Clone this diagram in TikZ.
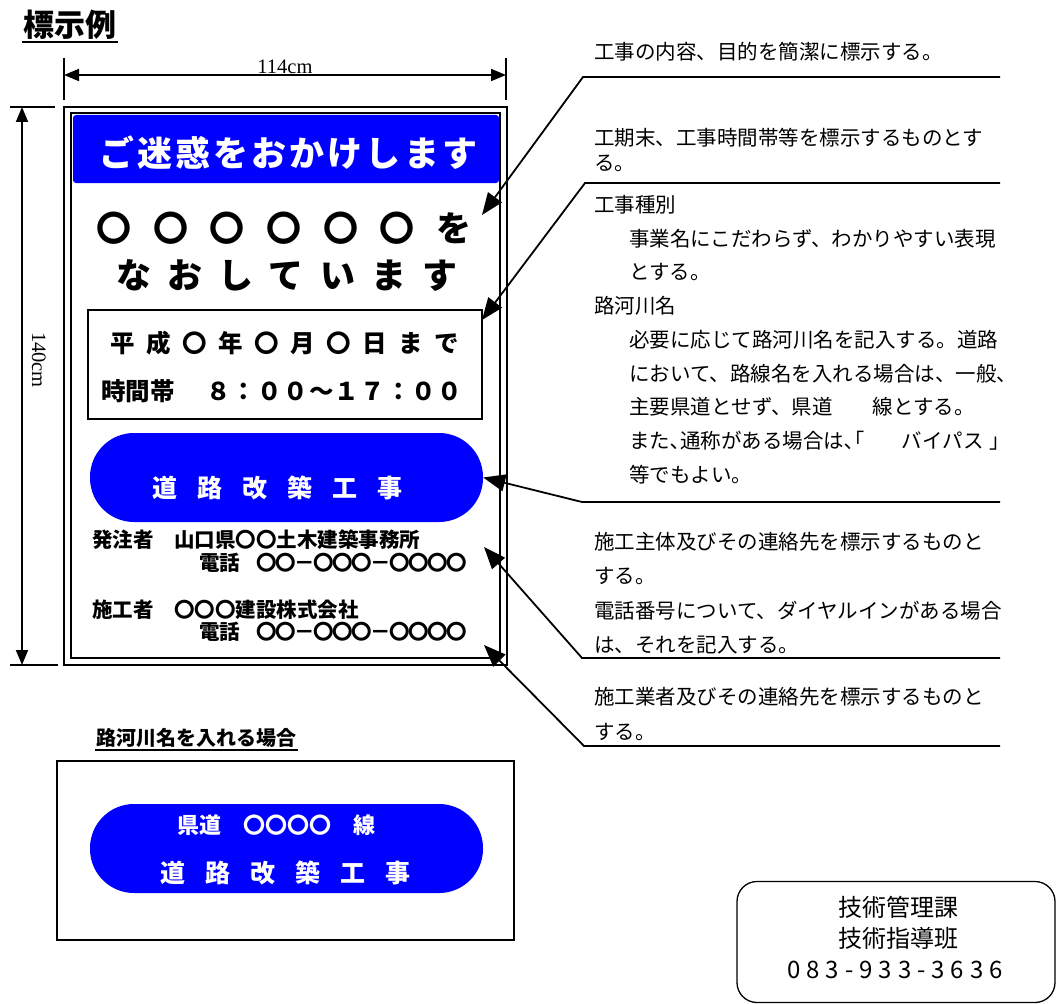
\documentclass[tikz,border=0pt]{standalone}
\usepackage{fontspec}
\setmainfont{Noto Sans CJK JP}
\newfontfamily\dimfont{Liberation Serif}
\usepackage{xcolor}
\usetikzlibrary{arrows.meta, positioning}
\definecolor{signblue}{RGB}{0,0,255}
\tikzset{
    signbox/.style={draw, line width=1.5pt, inner sep=0pt},
    pill/.style={fill=signblue, rounded corners=44pt, minimum width=393pt, minimum height=89pt, inner sep=0pt},
    note/.style={anchor=north west, inner sep=0pt, align=left, font=\fontsize{20.5}{34}\selectfont},
    contact/.style={anchor=west, inner sep=0pt, font=\fontsize{20.5}{20.5}\selectfont\bfseries},
    callout/.style={line width=1.8pt, -{Triangle[length=22pt, width=17pt]}},
    dimline/.style={line width=1.8pt, {Triangle[length=15pt, width=12pt]}-{Triangle[length=15pt, width=12pt]}}
}

\begin{document}
\begin{tikzpicture}[x=1pt, y=-1pt]
  \useasboundingbox (0,0) rectangle (1056,1003);
  % title
  \node[inner sep=0pt, font=\fontsize{31}{31}\selectfont\bfseries] (title) at (70,25) {標示例};
  \draw[line width=2pt] (22,42) -- (118,42);

  % sign
  \node[signbox, minimum width=443pt, minimum height=558pt] (sign) at (285.5,386) {};
  \node[signbox, minimum width=429pt, minimum height=545pt] (signin) at (285.5,385.5) {};
  \node[fill=signblue, rounded corners=3pt, minimum width=426pt, minimum height=68pt] (header) at (286,149) {};
  \node[inner sep=0pt, text=white, font=\fontsize{35}{35}\selectfont\bfseries\addfontfeature{LetterSpace=8.6}] (headtxt) at (288.5,153) {ご迷惑をおかけします};
  \node[inner sep=0pt, font=\fontsize{35}{35}\selectfont\bfseries\addfontfeature{LetterSpace=62}] (lineA) at (284,228) {〇〇〇〇〇〇を};
  \node[inner sep=0pt, font=\fontsize{35}{35}\selectfont\bfseries\addfontfeature{LetterSpace=46}] (lineB) at (287,276) {なおしています};
  \node[draw, line width=2pt, minimum width=394pt, minimum height=109pt] (datebox) at (285,364.5) {};
  \node[inner sep=0pt, font=\fontsize{24.5}{24.5}\selectfont\bfseries\addfontfeature{LetterSpace=47}] (dateA) at (285,343) {平成〇年〇月〇日まで};
  \node[inner sep=0pt, anchor=west, font=\fontsize{24.5}{24.5}\selectfont\bfseries] (dateB) at (101,391) {時間帯　\hspace{7pt}{\addfontfeature{LetterSpace=5}８：００～１７：００}};
  \node[pill] (pillA) at (286.5,477.5) {};
  \node[inner sep=0pt, text=white, font=\fontsize{25}{25}\selectfont\bfseries\addfontfeature{LetterSpace=80}] (workA) at (277,488) {道路改築工事};
  \node[contact] (ordA) at (92,540) {発注者　山口県〇〇土木建築事務所};
  \node[contact] (telA) at (199,563) {電話\hspace{16pt}{\addfontfeature{LetterSpace=-7}〇〇－〇〇〇－〇〇〇〇}};
  \node[contact] (ctrB) at (92,610) {施工者　〇〇〇建設株式会社};
  \node[contact] (telB) at (199,632) {電話\hspace{16pt}{\addfontfeature{LetterSpace=-7}〇〇－〇〇〇－〇〇〇〇}};

  % dimensions
  \draw[line width=1.3pt] (64,58) -- (64,100);
  \draw[line width=1.3pt] (506,58) -- (506,100);
  \coordinate (wL) at (64,75);
  \coordinate (wR) at (506,75);
  \draw[dimline] (wL) -- (wR);
  \node[inner sep=0pt, anchor=base, font=\dimfont\fontsize{20.5}{20.5}\selectfont] (wlab) at (285,74) {114cm};
  \draw[line width=1.3pt] (10,107) -- (55,107);
  \draw[line width=1.3pt] (10,665) -- (58,665);
  \coordinate (hT) at (22,107);
  \coordinate (hB) at (22,665);
  \draw[dimline] (hT) -- (hB);
  \node[inner sep=0pt, anchor=base, rotate=-90, font=\dimfont\fontsize{20.5}{20.5}\selectfont] (hlab) at (32,360) {140cm};

  % notes
  \node[note] (noteA) at (594,42) {工事の内容、目的を簡潔に標示する。};
  \node[note, font=\fontsize{20.5}{25}\selectfont] (noteB) at (594,128) {工期末、工事時間帯等を標示するものとす\\る。};
  \node[note, font=\fontsize{20.5}{33.75}\selectfont] (noteC) at (594,195) {工事種別\\
    \hspace*{35pt}事業名にこだわらず、わかりやすい表現\\
    \hspace*{35pt}とする。\\
    路河川名\\
    \hspace*{35pt}必要に応じて路河川名を記入する。道路\\
    \hspace*{35pt}において、路線名を入れる場合は、一般、\\
    \hspace*{35pt}主要県道とせず、県道\hspace{40pt}線とする。\\
    \hspace*{35pt}また､通称がある場合は､｢\hspace{37pt}バイパス\hspace{6pt}｣\\
    \hspace*{35pt}等でもよい。};
  \node[note, font=\fontsize{20.5}{34.3}\selectfont] (noteD) at (594,532) {施工主体及びその連絡先を標示するものと\\する。\\電話番号について、ダイヤルインがある場合\\は、それを記入する。};
  \node[note, font=\fontsize{20.5}{35}\selectfont] (noteE) at (594,687) {施工業者及びその連絡先を標示するものと\\する。};

  % callouts
  \coordinate (endA) at (1000,77);
  \coordinate (bendA) at (583,77);
  \coordinate (tipA) at (482,215);
  \coordinate (endB) at (1000,183);
  \coordinate (bendB) at (585,183);
  \coordinate (tipB) at (482,320);
  \coordinate (endC) at (1000,502);
  \coordinate (bendC) at (582,502);
  \coordinate (endD) at (1000,658);
  \coordinate (bendD) at (582,658);
  \coordinate (tipD) at (484,547);
  \coordinate (endE) at (1000,746);
  \coordinate (bendE) at (584,746);
  \coordinate (tipE) at (484,645);
  \draw[callout] (endA) -- (bendA) -- (tipA);
  \draw[callout] (endB) -- (bendB) -- (tipB);
  \draw[callout] (endC) -- (bendC) -- (pillA.east);
  \draw[callout] (endD) -- (bendD) -- (tipD);
  \draw[callout] (endE) -- (bendE) -- (tipE);

  % route name case
  \node[inner sep=0pt, font=\fontsize{20}{20}\selectfont\bfseries] (caseT) at (196,738) {路河川名を入れる場合};
  \draw[line width=2pt] (95,750) -- (298,750);
  \node[signbox, minimum width=457pt, minimum height=179pt] (casebox) at (285.5,850.5) {};
  \node[pill] (pillB) at (286.5,848.5) {};
  \node[inner sep=0pt, text=white, font=\fontsize{22}{22}\selectfont\bfseries] (routeB) at (276,825) {県道　〇〇〇〇　線};
  \node[inner sep=0pt, text=white, font=\fontsize{25}{25}\selectfont\bfseries\addfontfeature{LetterSpace=80}] (workB) at (285,873) {道路改築工事};

  % office
  \node[draw, line width=1.3pt, rounded corners=20pt, minimum width=318pt, minimum height=121pt] (office) at (896,942) {};
  \node[inner sep=0pt, font=\fontsize{24}{24}\selectfont] (officeA) at (898,907) {技術管理課};
  \node[inner sep=0pt, font=\fontsize{24}{24}\selectfont] (officeB) at (898,938) {技術指導班};
  \node[inner sep=0pt, font=\fontsize{24}{24}\selectfont\addfontfeature{LetterSpace=25}] (officeC) at (895,970) {083-933-3636};
\end{tikzpicture}
\end{document}
